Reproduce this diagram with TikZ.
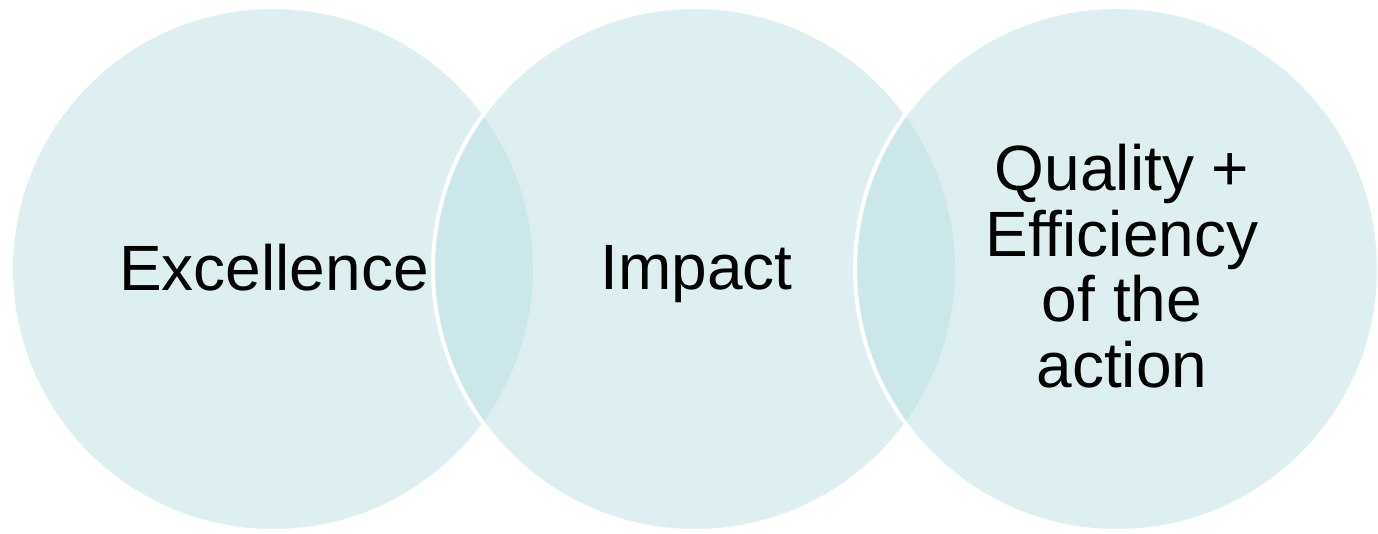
\documentclass[tikz,border=0pt]{standalone}
\usepackage{fontspec}
\setmainfont{Liberation Sans}
\definecolor{ringblue}{RGB}{187,223,227}
\tikzset{
    ring/.style={circle, minimum size=524pt, inner sep=0pt, fill=ringblue, fill opacity=0.5,
        draw=white, line width=4pt},
    ringtext/.style={inner sep=0pt, align=center, font=\fontsize{64}{65.7}\selectfont}
}
\begin{document}
\begin{tikzpicture}
    \useasboundingbox (0,0) rectangle (1378pt,534pt);
    \node[ring] (exc) at (273pt,265pt) {};
    \node[ring] (imp) at (695pt,265pt) {};
    \node[ring] (qual) at (1117pt,265pt) {};
    \node[ringtext, anchor=base] (exctext) at (274pt,243pt) {Excellence};
    \node[ringtext, anchor=base] (imptext) at (696.5pt,244pt) {Impact};
    \node[ringtext] (qualtext) at (1122pt,268pt) {Quality +\\Efficiency\\of the\\action};
\end{tikzpicture}
\end{document}
